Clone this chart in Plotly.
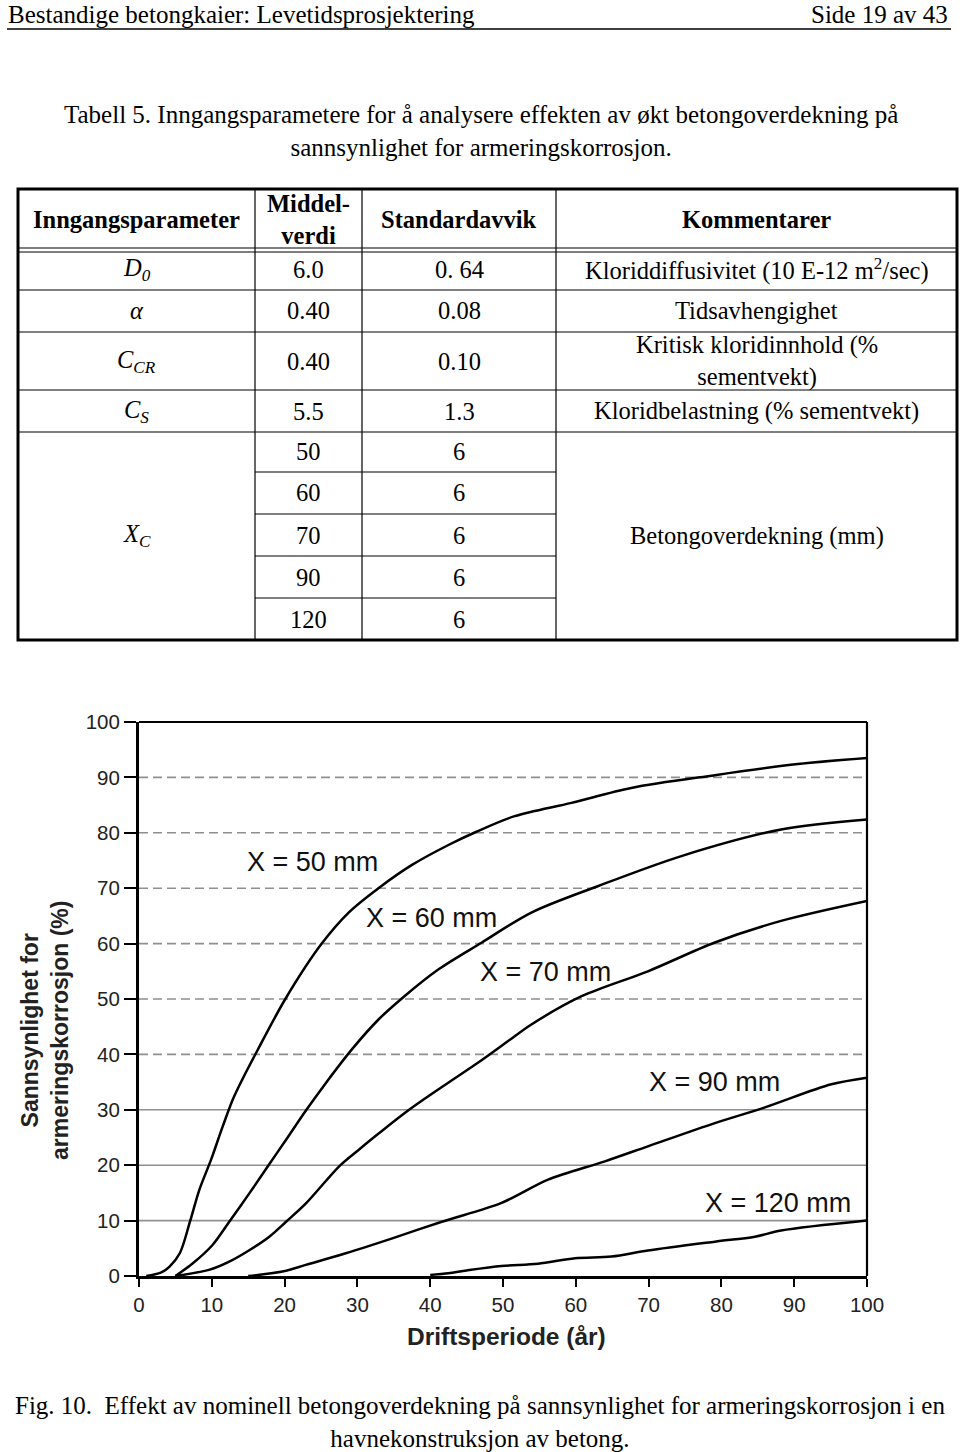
import plotly.graph_objects as go

# ---------------- data ----------------
years_50 = [1, 3, 4.2, 5.6, 7, 8.3, 9.9, 11.5, 12.9, 14.2, 16.3, 20.1, 25.1, 28.8, 32.9, 37.5, 42.5, 46.2, 51.6, 59.4, 67.6, 79.1, 90.5, 100]
prob_50 = [0, 0.6, 1.7, 4.1, 9.8, 15.6, 21, 27, 31.9, 35.5, 40.8, 50, 60, 65.6, 70, 74.2, 77.8, 80.1, 83, 85.4, 88.1, 90.4, 92.4, 93.5]

years_60 = [5, 7.4, 10.1, 12.4, 15.2, 17.7, 20.2, 23, 25.7, 29.3, 32.9, 36.1, 41.2, 47.1, 53.9, 63.1, 74.5, 88.2, 100]
prob_60 = [0, 2.3, 5.6, 9.8, 15, 19.8, 24.6, 30, 34.9, 41, 46.3, 50.1, 55.4, 60.2, 65.6, 70.4, 75.8, 80.6, 82.4]

years_70 = [5, 9.6, 12.4, 15.2, 17.9, 20.2, 23, 27.5, 30.2, 33, 37.1, 41.7, 47.1, 50.8, 53.9, 60.8, 69.9, 79.1, 88.2, 100]
prob_70 = [0, 1.1, 2.6, 4.7, 7.1, 9.8, 13.2, 19.8, 22.8, 25.8, 30, 34.2, 39, 42.5, 45.4, 50.5, 55, 60.2, 64.1, 67.7]

years_90 = [15, 19.7, 22.9, 28.4, 34.8, 41.6, 49.8, 56.2, 64, 69.9, 79.1, 85.9, 95.1, 100]
prob_90 = [0, 0.8, 2, 4.1, 6.8, 9.8, 13.2, 17.4, 20.7, 23.4, 27.6, 30.4, 34.6, 35.8]

years_120 = [40, 42.5, 45, 49.8, 54.8, 59.9, 64.9, 69.9, 79.1, 84.6, 88.2, 100]
prob_120 = [0.2, 0.5, 1.0, 1.8, 2.2, 3.2, 3.5, 4.6, 6.2, 7.1, 8.2, 10]

curve_labels = ["X = 50 mm", "X = 60 mm", "X = 70 mm", "X = 90 mm", "X = 120 mm"]
label_x = [23.8, 40.2, 55.8, 79.1, 87.8]
label_y = [74.7, 64.6, 54.9, 35.0, 13.2]

x_ticks = [0, 10, 20, 30, 40, 50, 60, 70, 80, 90, 100]
y_ticks = [0, 10, 20, 30, 40, 50, 60, 70, 80, 90, 100]
grid_solid = [10, 20, 30]
grid_dashed = [40, 50, 60, 70, 80, 90]

x_title = "Driftsperiode (år)"
y_title = "Sannsynlighet for<br>armeringskorrosjon (%)"

page_header_left = "Bestandige betongkaier: Levetidsprosjektering"
page_header_right = "Side 19 av 43"
table_caption = "Tabell 5. Inngangsparametere for å analysere effekten av økt betongoverdekning på<br>sannsynlighet for armeringskorrosjon."
fig_caption = "Fig. 10.&nbsp; Effekt av nominell betongoverdekning på sannsynlighet for armeringskorrosjon i en<br>havnekonstruksjon av betong."

table_header = ["Inngangsparameter", "Middel-<br>verdi", "Standardavvik", "Kommentarer"]
table_params = ["<i>D<sub>0</sub></i>", "<i>α</i>", "<i>C<sub>CR</sub></i>", "<i>C<sub>S</sub></i>"]
table_means = ["6.0", "0.40", "0.40", "5.5"]
table_stds = ["0. 64", "0.08", "0.10", "1.3"]
table_comments = ["Kloriddiffusivitet (10 E-12 m<sup>2</sup>/sec)", "Tidsavhengighet",
                  "Kritisk kloridinnhold (%<br>sementvekt)", "Kloridbelastning (% sementvekt)"]
xc_param = "<i>X<sub>C</sub></i>"
xc_means = ["50", "60", "70", "90", "120"]
xc_stds = ["6", "6", "6", "6", "6"]
xc_comment = "Betongoverdekning (mm)"

# ---------------- layout helpers ----------------
W, H = 960, 1452
def PX(px):
    return px / W
def PY(py):
    return 1 - py / H

SERIF = "Liberation Serif, Times New Roman, serif"
SANS = "Liberation Sans, Arial, sans-serif"

fig = go.Figure()

series = [(years_50, prob_50), (years_60, prob_60), (years_70, prob_70), (years_90, prob_90), (years_120, prob_120)]
for (xs, ys), name in zip(series, curve_labels):
    fig.add_trace(go.Scatter(x=xs, y=ys, mode="lines", name=name,
                             line=dict(color="black", width=2.5, shape="spline", smoothing=0.9),
                             showlegend=False, hoverinfo="skip"))

shapes = []
annotations = []

def note(text, x, y, size, family, xanchor="center", yanchor="middle", xref="paper", yref="paper",
         color="black", angle=0):
    annotations.append(dict(x=x, y=y, xref=xref, yref=yref, text=text, showarrow=False,
                            xanchor=xanchor, yanchor=yanchor, textangle=angle,
                            font=dict(family=family, size=size, color=color)))

# grid lines
for v in grid_solid:
    shapes.append(dict(type="line", xref="x domain", yref="y", x0=0, x1=1, y0=v, y1=v,
                       line=dict(color="#8f8f8f", width=1.6), layer="below"))
for v in grid_dashed:
    shapes.append(dict(type="line", xref="x domain", yref="y", x0=0, x1=1, y0=v, y1=v,
                       line=dict(color="#8f8f8f", width=1.6, dash="9px,5px"), layer="below"))
# top and right frame
shapes.append(dict(type="line", xref="x domain", yref="y domain", x0=0, x1=1, y0=1, y1=1,
                   line=dict(color="black", width=2.2)))
shapes.append(dict(type="line", xref="x domain", yref="y domain", x0=1, x1=1, y0=0, y1=1,
                   line=dict(color="black", width=2.2)))

for t, lx, ly in zip(curve_labels, label_x, label_y):
    note(t, lx, ly, 27, SANS, xref="x", yref="y", color="#111")

note("<b>" + x_title + "</b>", PX(506), PY(1336), 24.5, SANS, color="#222")
note("<b>" + y_title + "</b>", PX(45), PY(1031), 23, SANS, color="#222", angle=-90)

# ---------------- page texts ----------------
note(page_header_left, PX(6), PY(14), 25, SERIF, xanchor="left")
note(page_header_right, PX(950), PY(14), 25, SERIF, xanchor="right")
shapes.append(dict(type="line", xref="paper", yref="paper", x0=PX(7), x1=PX(951), y0=PY(29), y1=PY(29),
                   line=dict(color="black", width=1.5)))
note(table_caption, PX(481), PY(131), 25, SERIF)
note(fig_caption, PX(480), PY(1422), 25, SERIF)

# ---------------- table ----------------
col_edges = [18, 255, 362, 556, 957]
row_edges = [189, 250, 290, 332, 390, 432, 472, 514, 556, 598, 640]
col_cent = [(col_edges[i] + col_edges[i + 1]) / 2 for i in range(4)]

def hline(x0, x1, y, w=1.2):
    shapes.append(dict(type="line", xref="paper", yref="paper", x0=PX(x0), x1=PX(x1), y0=PY(y), y1=PY(y),
                       line=dict(color="black", width=w)))
def vline(x, y0, y1, w=1.2):
    shapes.append(dict(type="line", xref="paper", yref="paper", x0=PX(x), x1=PX(x), y0=PY(y0), y1=PY(y1),
                       line=dict(color="black", width=w)))

shapes.append(dict(type="rect", xref="paper", yref="paper", x0=PX(col_edges[0]), x1=PX(col_edges[-1]),
                   y0=PY(row_edges[0]), y1=PY(row_edges[-1]), line=dict(color="black", width=3)))
for x in col_edges[1:-1]:
    vline(x, row_edges[0], row_edges[-1])
hline(col_edges[0], col_edges[-1], row_edges[1] - 2)
hline(col_edges[0], col_edges[-1], row_edges[1] + 2)
for y in row_edges[2:6]:
    hline(col_edges[0], col_edges[-1], y)
for y in row_edges[6:10]:
    hline(col_edges[1], col_edges[3], y)

def cell(text, cx, cy, bold=False, size=24.5):
    t = "<b>" + text + "</b>" if bold else text
    note(t, PX(cx), PY(cy), size, SERIF)

hy = (row_edges[0] + row_edges[1]) / 2
for i, t in enumerate(table_header):
    cell(t, col_cent[i], hy, bold=True, size=24.5)

for r in range(4):
    cy = (row_edges[r + 1] + row_edges[r + 2]) / 2
    cell(table_params[r], col_cent[0], cy)
    cell(table_means[r], col_cent[1], cy)
    cell(table_stds[r], col_cent[2], cy)
    cell(table_comments[r], col_cent[3], cy)

xc_mid = (row_edges[5] + row_edges[10]) / 2
cell(xc_param, col_cent[0], xc_mid)
cell(xc_comment, col_cent[3], xc_mid)
for k in range(5):
    cy = (row_edges[5 + k] + row_edges[6 + k]) / 2
    cell(xc_means[k], col_cent[1], cy)
    cell(xc_stds[k], col_cent[2], cy)

fig.update_layout(
    width=W, height=H, autosize=False,
    margin=dict(l=0, r=0, t=0, b=0, pad=0, autoexpand=False),
    paper_bgcolor="white", plot_bgcolor="white",
    shapes=shapes, annotations=annotations,
    xaxis=dict(domain=[139 / W, 867 / W], range=[0, 100], tickvals=x_ticks, automargin=False,
               ticks="outside", ticklen=8, tickwidth=2, tickcolor="black",
               showline=True, linewidth=3, linecolor="black", showgrid=False, zeroline=False,
               tickfont=dict(family=SANS, size=20.5, color="#222"), fixedrange=True),
    yaxis=dict(domain=[1 - 1276 / H, 1 - 722 / H], range=[0, 100], tickvals=y_ticks, automargin=False,
               ticks="outside", ticklen=12, tickwidth=2, tickcolor="black",
               showline=True, linewidth=3, linecolor="black", showgrid=False, zeroline=False,
               tickfont=dict(family=SANS, size=20.5, color="#222"), fixedrange=True),
    showlegend=False,
)

fig.write_html("out.html", config={"displayModeBar": False, "staticPlot": True},
               post_script="document.body.style.margin='0px';document.body.style.padding='0px';")
